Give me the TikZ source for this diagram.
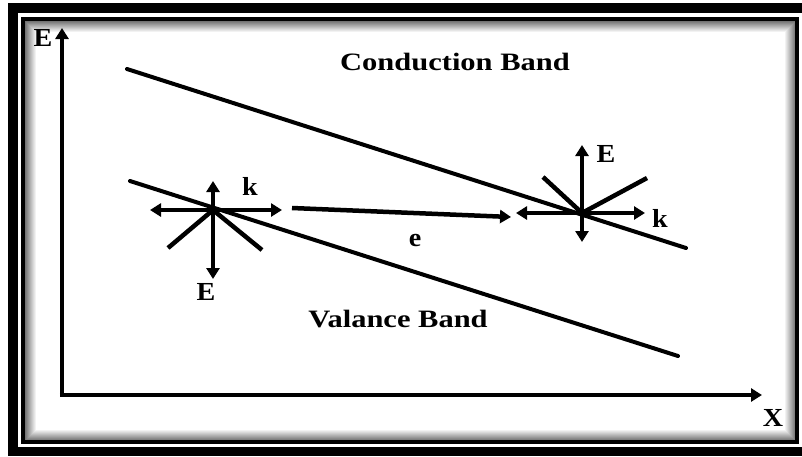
\documentclass[tikz,border=0pt]{standalone}
\usepackage{fontspec}
\setmainfont{Liberation Serif}
\usetikzlibrary{arrows.meta}
\tikzset{
  thick line/.style={line width=4.5pt, line cap=butt},
  arr/.style={thick line, -{Triangle[length=11pt,width=13pt]}},
  band/.style={line width=4pt, line cap=round},
  lbl/.style={inner sep=0pt, font=\fontsize{26}{26}\selectfont\bfseries, xscale=1.08},
  title/.style={inner sep=0pt, font=\fontsize{25}{25}\selectfont\bfseries, xscale=1.22},
}
\begin{document}
\begin{tikzpicture}[x=1pt,y=-1pt]
\useasboundingbox (0,0) rectangle (802,456);
\fill[white] (0,0) rectangle (802,456);
% inner shading
\foreach \i in {0,...,11}{
  \pgfmathsetmacro\g{55-5*\i}
  \draw[line width=1pt, black!\g] (25+\i,21+\i) rectangle (795-\i,440-\i);
}
% outer frame
\fill[black] (8,3) rectangle (802,13);
\fill[black] (8,3) rectangle (18,456);
\fill[black] (8,447) rectangle (802,456);
% inner frame
\draw[line width=4pt] (23,19) rectangle (797,442);

% axes
\coordinate (O) at (62,395);
\coordinate (Ytop) at (62,28);
\coordinate (Xend) at (762,395);
\draw[arr] (O) -- (Ytop);
\draw[arr] ([xshift=-2.25pt]O) -- (Xend);
\node[lbl] (Elab) at (43,38) {E};
\node[lbl] (Xlab) at (773,418) {X};

% bands
\coordinate (cb1) at (127,69);
\coordinate (cb2) at (686,248);
\coordinate (vb1) at (130,181);
\coordinate (vb2) at (678,356);
\draw[band] (cb1) -- (cb2);
\draw[band] (vb1) -- (vb2);
\node[title] (cband) at (455,62) {Conduction Band};
\node[title] (vband) at (398,319) {Valance Band};

% left star
\coordinate (L) at (213,210);
\coordinate (Lw) at (150,210);
\coordinate (Le) at (282,210);
\coordinate (Ln) at (213,181);
\coordinate (Ls) at (213,279);
\coordinate (Lsw) at (168,248);
\coordinate (Lse) at (262,250);
\draw[arr] (L) -- (Lw);
\draw[arr] (L) -- (Le);
\draw[arr] (L) -- (Ln);
\draw[arr] (L) -- (Ls);
\draw[thick line] (L) -- (Lsw);
\draw[thick line] (L) -- (Lse);
\node[lbl] (Lk) at (250,186) {k};
\node[lbl] (LE) at (206,292) {E};

% right star
\coordinate (R) at (582,213);
\coordinate (Rw) at (516,213);
\coordinate (Re) at (645,213);
\coordinate (Rn) at (582,145);
\coordinate (Rs) at (582,242);
\coordinate (Rnw) at (543,177);
\coordinate (Rne) at (647,178);
\draw[arr] (R) -- (Rw);
\draw[arr] (R) -- (Re);
\draw[arr] (R) -- (Rn);
\draw[arr] (R) -- (Rs);
\draw[thick line] (R) -- (Rnw);
\draw[thick line] (R) -- (Rne);
\node[lbl] (RE) at (606,154) {E};
\node[lbl] (Rk) at (660,218) {k};

% electron transfer
\coordinate (m1) at (292,208);
\coordinate (m2) at (511,217);
\draw[arr] (m1) -- (m2);
\node[lbl] (elab) at (415,240) {e};
\end{tikzpicture}
\end{document}
